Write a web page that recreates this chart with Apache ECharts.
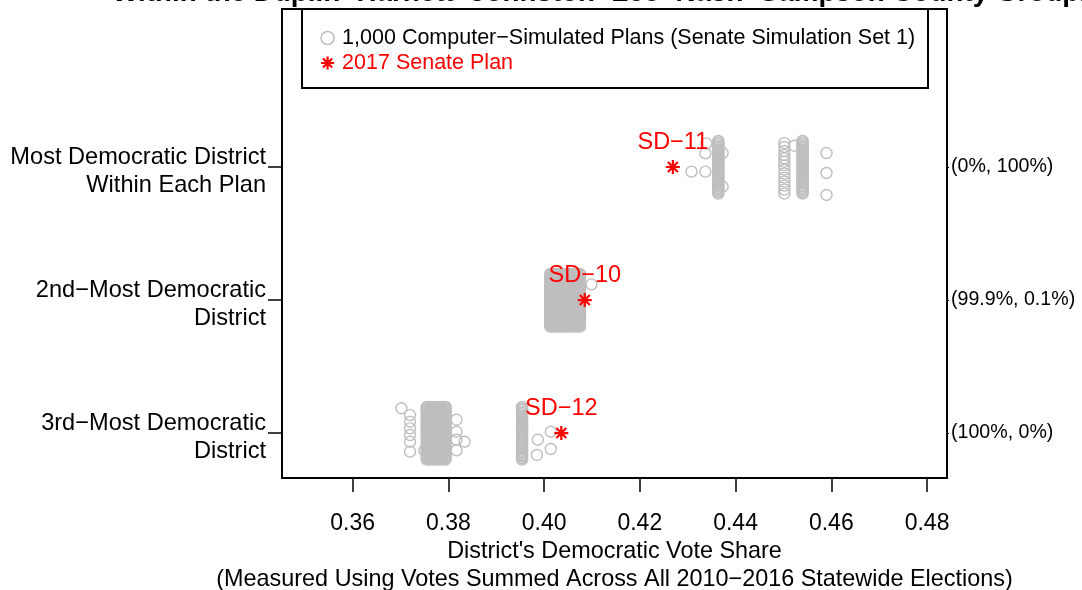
<!DOCTYPE html>
<html>
<head>
<meta charset="utf-8">
<script src="https://cdn.jsdelivr.net/npm/echarts@6/dist/echarts.min.js"></script>
<style>
html,body{margin:0;padding:0;background:#fff;}
#chart{width:1082px;height:590px;}
</style>
</head>
<body>
<div id="chart"></div>
<script>
// ---------- data ----------
const titleText = "Within the Duplin\u2212Harnett\u2212Johnston\u2212Lee\u2212Nash\u2212Sampson County Grouping:";
const rowLabels = ["3rd\u2212Most Democratic\nDistrict", "2nd\u2212Most Democratic\nDistrict", "Most Democratic District\nWithin Each Plan"];
const rowValues = [1, 2, 3];
const rightLabels = ["(100%, 0%)", "(99.9%, 0.1%)", "(0%, 100%)"];
const xTicks = [0.36, 0.38, 0.40, 0.42, 0.44, 0.46, 0.48];
const simName = "1,000 Computer\u2212Simulated Plans (Senate Simulation Set 1)";
const planName = "2017 Senate Plan";
const xName = "District's Democratic Vote Share\n(Measured Using Votes Summed Across All 2010\u22122016 Statewide Elections)";

// vertical jitter offsets (in row units) read from the densely packed columns
const denseOffsets = [0.196, 0.185, 0.174, 0.163, 0.152, 0.141, 0.13, 0.119, 0.108, 0.097, 0.086, 0.075, 0.064, 0.053, 0.042, 0.031, 0.02, 0.009, -0.002, -0.013, -0.024, -0.035, -0.046, -0.057, -0.068, -0.079, -0.09, -0.101, -0.112, -0.123, -0.134, -0.145, -0.156, -0.167, -0.178, -0.189, -0.2];

// Most Democratic district (row 3)
const row3DenseX = [0.4364, 0.4540];
const row3StackX = 0.4502;
const row3StackOffsets = [0.18, 0.15, 0.12, 0.09, 0.065, 0.04, 0.012, -0.02, -0.05, -0.08, -0.11, -0.14, -0.17, -0.2];
const row3Sparse = [[0.4339, 0.178], [0.4337, 0.103], [0.4373, 0.105], [0.4308, -0.035], [0.4337, -0.035], [0.4373, -0.148],
                    [0.4590, 0.105], [0.4590, -0.045], [0.4590, -0.21], [0.4523, 0.16]];
// 2nd-most Democratic district (row 2)
const row2DenseX = [0.4013, 0.4019, 0.4026, 0.4033, 0.4040, 0.4047, 0.4054, 0.4062, 0.4070, 0.4075];
const row2Sparse = [[0.4099, 0.118]];
// 3rd-most Democratic district (row 1)
const row1DenseX = [0.3755, 0.3762, 0.3770, 0.3778, 0.3786, 0.3794, 0.3954];
const row1Sparse = [[0.3702, 0.186], [0.3720, 0.135], [0.3720, 0.085], [0.3720, 0.035], [0.3720, -0.015], [0.3720, -0.065], [0.3720, -0.14],
                    [0.3750, -0.13], [0.3817, 0.1], [0.3817, 0.01], [0.3817, -0.05], [0.3817, -0.13], [0.3834, -0.065],
                    [0.3987, -0.05], [0.3985, -0.165], [0.4014, 0.01], [0.4014, -0.12]];
// 2017 enacted plan
const planX = [0.4036, 0.4085, 0.4269];
const planLabels = ["SD\u221212", "SD\u221210", "SD\u221211"];
// left labels sit slightly below their tick
const rowLabelPos = [0.97, 1.97, 2.97];

// ---------- build ----------
const simPoints = [];
function addDense(xs, row, offs) { xs.forEach(x => offs.forEach(o => simPoints.push([x, row + o]))); }
addDense(row3DenseX, 3, denseOffsets);
row3StackOffsets.forEach(o => simPoints.push([row3StackX, 3 + o]));
row3Sparse.forEach(p => simPoints.push([p[0], 3 + p[1]]));
addDense(row2DenseX, 2, denseOffsets);
row2Sparse.forEach(p => simPoints.push([p[0], 2 + p[1]]));
addDense(row1DenseX, 1, denseOffsets);
row1Sparse.forEach(p => simPoints.push([p[0], 1 + p[1]]));

const planPoints = planX.map((x, i) => ({ value: [x, rowValues[i]], name: planLabels[i] }));

const FONT = '"Liberation Sans", Arial, Helvetica, sans-serif';
const starPath = 'path://M0,-10L0,10M-10,0L10,0M-7.07,-7.07L7.07,7.07M-7.07,7.07L7.07,-7.07';

const chart = echarts.init(document.getElementById('chart'), null, { renderer: 'canvas' });
chart.setOption({
  animation: false,
  backgroundColor: '#fff',
  textStyle: { fontFamily: FONT },
  graphic: [
    { type: 'text', x: 112, y: 7, z: 10,
      style: { text: titleText, font: 'bold 27.8px ' + FONT, fill: '#000', verticalAlign: 'bottom', textAlign: 'left' } },
    { type: 'rect', z: 1, shape: { x: 302, y: 9, width: 626, height: 79 },
      style: { fill: '#fff', stroke: '#000', lineWidth: 2 } }
  ],
  legend: {
    orient: 'vertical', left: 315, top: 22, itemGap: 3, itemWidth: 13, itemHeight: 13, z: 20,
    textStyle: { fontSize: 21.5, color: '#000', fontFamily: FONT, lineHeight: 21, padding: [0, 0, 0, 3] },
    data: [
      { name: simName, icon: 'circle', itemStyle: { color: 'rgba(0,0,0,0)', borderColor: '#BEBEBE', borderWidth: 1.5 } },
      { name: planName, icon: starPath, itemStyle: { color: 'rgba(0,0,0,0)', borderColor: '#FF0000', borderWidth: 2.2 }, textStyle: { color: '#FF0000' } }
    ]
  },
  grid: { left: 282, right: 135, top: 9, bottom: 112, outerBoundsMode: 'none', containLabel: false,
          show: true, borderColor: '#000', borderWidth: 2, backgroundColor: 'rgba(0,0,0,0)' },
  xAxis: {
    type: 'value', min: 0.34525, max: 0.48417,
    axisLine: { show: false },
    splitLine: { show: false },
    axisTick: { show: true, customValues: xTicks, length: 14, inside: false, lineStyle: { color: '#000', width: 1.5 } },
    axisLabel: { customValues: xTicks, formatter: v => v.toFixed(2), fontSize: 23, color: '#000', margin: 34, fontFamily: FONT },
    name: xName, nameLocation: 'middle', nameGap: 60, nameMoveOverlap: false,
    nameTextStyle: { fontSize: 23.4, color: '#000', lineHeight: 28, fontFamily: FONT, verticalAlign: 'top' }
  },
  yAxis: [
    { type: 'value', min: 0.662, max: 4.188, position: 'left',
      axisLine: { show: false }, splitLine: { show: false },
      axisTick: { show: true, customValues: rowValues, length: 14, inside: false, lineStyle: { color: '#000', width: 1.5 } },
      axisLabel: { customValues: rowLabelPos, formatter: v => rowLabels[Math.round(v) - 1], fontSize: 23.6, lineHeight: 28,
                   color: '#000', margin: 16, align: 'right', fontFamily: FONT } },
    { type: 'value', min: 0.662, max: 4.188, position: 'right',
      axisLine: { show: false }, splitLine: { show: false },
      axisTick: { show: true, customValues: rowValues, length: 2, inside: false, lineStyle: { color: '#000', width: 1 } },
      axisLabel: { customValues: rowValues, formatter: v => rightLabels[Math.round(v) - 1], fontSize: 19.6,
                   color: '#000', margin: 4, fontFamily: FONT } }
  ],
  series: [
    { name: simName, type: 'scatter', data: simPoints, symbol: 'circle', symbolSize: 11,
      itemStyle: { color: 'rgba(0,0,0,0)', borderColor: '#BEBEBE', borderWidth: 1.4, opacity: 1 }, z: 2, silent: true },
    { name: planName, type: 'scatter', data: planPoints, symbol: starPath, symbolSize: 14,
      itemStyle: { color: 'rgba(0,0,0,0)', borderColor: '#FF0000', borderWidth: 2.2, opacity: 1 }, z: 3,
      label: { show: true, position: 'top', distance: 4, formatter: '{b}', color: '#FF0000', fontSize: 23.5, fontFamily: FONT } }
  ]
});
</script>
</body>
</html>
